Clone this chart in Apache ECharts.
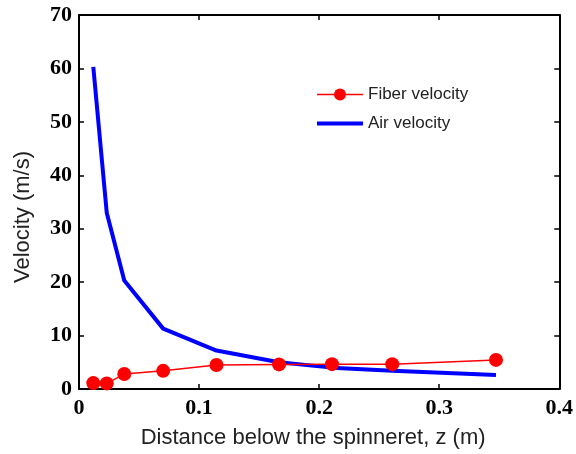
<!DOCTYPE html>
<html>
<head>
<meta charset="utf-8">
<script src="https://cdn.jsdelivr.net/npm/echarts@6/dist/echarts.min.js"></script>
<style>
html,body{margin:0;padding:0;background:#fff;}
#main{width:576px;height:454px;}
</style>
</head>
<body>
<div id="main"></div>
<script>
// distance below spinneret (m)
var zPos = [0.0119, 0.0231, 0.0377, 0.0701, 0.1145, 0.1666, 0.2107, 0.2609, 0.3473];
var fiberVel = [1.1, 1.05, 2.8, 3.4, 4.5, 4.6, 4.65, 4.65, 5.45];
var airVel = [60.3, 33.0, 20.3, 11.3, 7.2, 5.0, 4.0, 3.4, 2.6];

var chart = echarts.init(document.getElementById('main'));

var tickFont = {fontFamily: 'Liberation Serif', fontWeight: 'bold', fontSize: 22, color: '#000'};
var axLine = {show: true, onZero: false, lineStyle: {color: '#000', width: 2}};
var tickIn = {show: true, inside: true, length: 5, lineStyle: {color: '#000', width: 1.5}};

var option = {
    animation: false,
    grid: {left: 79, right: 16, top: 15, bottom: 63},
    legend: {
        orient: 'vertical',
        left: 310,
        top: 81,
        itemWidth: 46,
        itemHeight: 15,
        itemGap: 12,
        textStyle: {fontFamily: 'Liberation Sans', fontSize: 17, color: '#222'},
        data: [
            {name: 'Fiber velocity', lineStyle: {width: 1.5}},
            {name: 'Air velocity', lineStyle: {width: 4}, itemStyle: {opacity: 0}}
        ]
    },
    xAxis: [{
        type: 'value', min: 0, max: 0.4, interval: 0.1,
        name: 'Distance below the spinneret, z (m)',
        nameLocation: 'middle', nameGap: 38,
        nameTextStyle: {fontFamily: 'Liberation Sans', fontSize: 22, color: '#222', padding: [0, 12, 0, 0]},
        axisLine: axLine, axisTick: tickIn,
        axisLabel: Object.assign({margin: 8}, tickFont),
        splitLine: {show: false}
    }, {
        type: 'value', min: 0, max: 0.4, interval: 0.1, position: 'top',
        axisLine: axLine, axisTick: tickIn, axisLabel: {show: false}, splitLine: {show: false}
    }],
    yAxis: [{
        type: 'value', min: 0, max: 70, interval: 10,
        name: 'Velocity (m/s)',
        nameLocation: 'middle', nameGap: 45,
        nameTextStyle: {fontFamily: 'Liberation Sans', fontSize: 22, color: '#222', padding: [0, 30, 0, 0]},
        axisLine: axLine, axisTick: tickIn,
        axisLabel: Object.assign({margin: 7}, tickFont),
        splitLine: {show: false}
    }, {
        type: 'value', min: 0, max: 70, interval: 10, position: 'right',
        axisLine: axLine, axisTick: tickIn, axisLabel: {show: false}, splitLine: {show: false}
    }],
    series: [{
        name: 'Fiber velocity',
        type: 'line',
        data: zPos.map(function (z, i) { return [z, fiberVel[i]]; }),
        symbol: 'circle', symbolSize: 14,
        itemStyle: {color: '#ff0000'},
        lineStyle: {color: '#ff0000', width: 1.5},
        z: 3
    }, {
        name: 'Air velocity',
        type: 'line',
        data: zPos.map(function (z, i) { return [z, airVel[i]]; }),
        symbol: 'none',
        itemStyle: {color: '#0000ff'},
        lineStyle: {color: '#0000ff', width: 4},
        z: 2
    }]
};
chart.setOption(option);
</script>
</body>
</html>
